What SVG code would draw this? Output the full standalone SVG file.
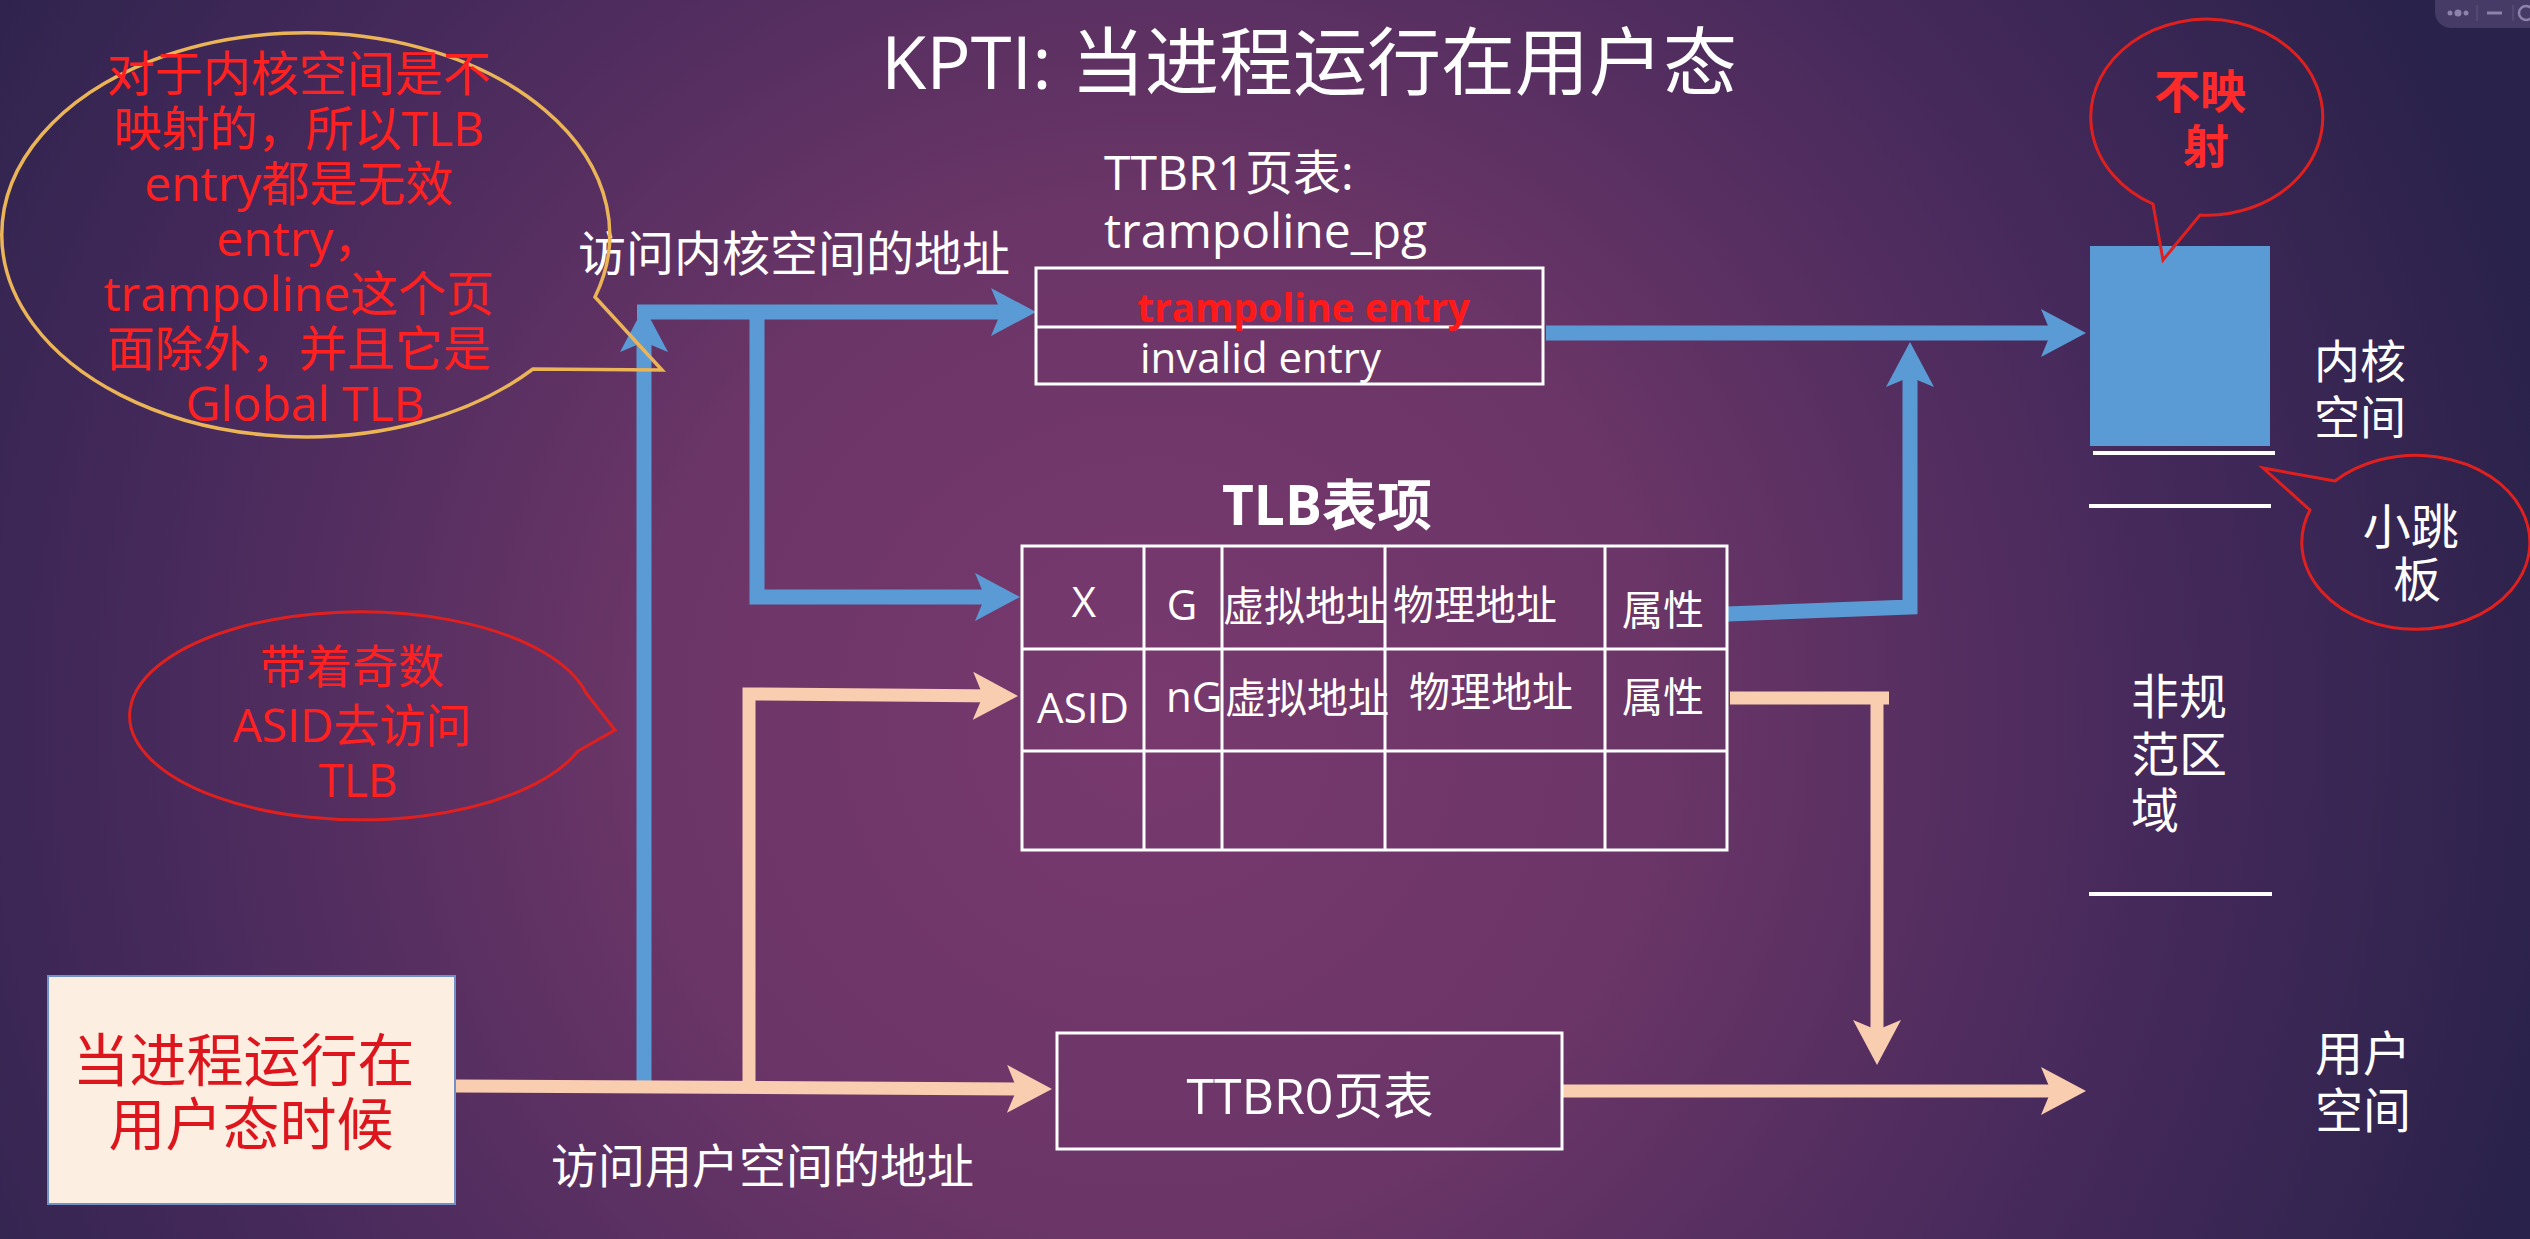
<svg xmlns="http://www.w3.org/2000/svg" width="2530" height="1239" viewBox="0 0 2530 1239">
  <defs>
    <radialGradient id="bg" cx="1150" cy="720" r="1450" gradientUnits="userSpaceOnUse">
      <stop offset="0" stop-color="#78396e"/>
      <stop offset="0.35" stop-color="#6b3567"/>
      <stop offset="0.7" stop-color="#45295b"/>
      <stop offset="1" stop-color="#29224a"/>
    </radialGradient>
    <marker id="ahBlue" markerUnits="userSpaceOnUse" markerWidth="50" markerHeight="50" refX="30" refY="24" orient="auto" viewBox="0 0 50 50">
      <path d="M0,0 L45,24 L0,48 L10,24 Z" fill="#5b9bd5"/>
    </marker>
    <marker id="ahPeach" markerUnits="userSpaceOnUse" markerWidth="50" markerHeight="50" refX="30" refY="24" orient="auto" viewBox="0 0 50 50">
      <path d="M0,0 L45,24 L0,48 L10,24 Z" fill="#f9cdb0"/>
    </marker>
    <style>
      text { font-family: "Open Sans", "Noto Sans CJK SC", sans-serif; }
      .w { fill: #ffffff; }
      .red { fill: #ff2020; }
      .box { fill: none; stroke: #ffffff; stroke-width: 3; }
      .grid { stroke: #ffffff; stroke-width: 3; }
      .blue { fill: none; stroke: #5b9bd5; stroke-width: 15; stroke-linejoin: miter; }
      .peach { fill: none; stroke: #f9cdb0; stroke-width: 13; stroke-linejoin: miter; }
      .bubbleRed { fill: none; stroke: #e0201e; stroke-width: 3; }
      .bubbleGold { fill: none; stroke: #eab457; stroke-width: 3.5; }
      .mid { text-anchor: middle; }
    </style>
  </defs>

  <rect x="0" y="0" width="2530" height="1239" fill="url(#bg)"/>

  <!-- window control overlay -->
  <g id="window-control">
    <rect x="2435" y="-14" width="130" height="42" rx="16" fill="#463b67"/>
    <circle cx="2450" cy="13" r="2.5" fill="#8c82aa"/>
    <circle cx="2458" cy="13" r="3.5" fill="#8c82aa"/>
    <circle cx="2466" cy="13" r="2.5" fill="#8c82aa"/>
    <line x1="2477" y1="5" x2="2477" y2="21" stroke="#5a4f7a" stroke-width="1.5"/>
    <line x1="2487" y1="13" x2="2502" y2="13" stroke="#8c82aa" stroke-width="3"/>
    <line x1="2513" y1="5" x2="2513" y2="21" stroke="#5a4f7a" stroke-width="1.5"/>
    <circle cx="2526" cy="13" r="7" fill="none" stroke="#8c82aa" stroke-width="2.5"/>
  </g>

  <g id="title">
    <text x="1309" y="89" class="w mid" font-size="74">KPTI: 当进程运行在用户态</text>
  </g>

  <g id="connectors">
    <!-- blue: kernel address path -->
    <path class="blue" d="M644 1081 L644 322" marker-end="url(#ahBlue)"/>
    <path class="blue" d="M637 312 L1021 312" marker-end="url(#ahBlue)"/>
    <path class="blue" d="M757 312 L757 597 L1005 597" marker-end="url(#ahBlue)"/>
    <path class="blue" d="M1546 333 L2071 333" marker-end="url(#ahBlue)"/>
    <path class="blue" d="M1727 614 L1910 607 L1910 357" marker-end="url(#ahBlue)"/>
    <!-- peach: user address path -->
    <path class="peach" d="M455 1086 L1037 1089" marker-end="url(#ahPeach)"/>
    <path class="peach" d="M749 1084 L749 694 L1003 696" marker-end="url(#ahPeach)"/>
    <path class="peach" d="M1730 698 L1889 698"/>
    <path class="peach" d="M1877 692 L1877 1050" marker-end="url(#ahPeach)"/>
    <path class="peach" d="M1562 1091 L2071 1091" marker-end="url(#ahPeach)"/>
  </g>

  <g id="label-kernel-access">
    <text x="578" y="271" class="w" font-size="48">访问内核空间的地址</text>
  </g>
  <g id="label-user-access">
    <text x="551" y="1183" class="w" font-size="47">访问用户空间的地址</text>
  </g>

  <g id="bubble-unmapped-note">
    <path class="bubbleGold" d="M595 297 L662 370 L533 369 A304 202 0 1 1 595 297 Z"/>
    <text class="red mid" font-size="48">
      <tspan x="305" y="91">对于内核空间是不</tspan>
      <tspan x="305" y="146">映射的，所以TLB</tspan>
      <tspan x="305" y="201">entry都是无效</tspan>
      <tspan x="305" y="256">entry，</tspan>
      <tspan x="305" y="311">trampoline这个页</tspan>
      <tspan x="305" y="366">面除外，并且它是</tspan>
      <tspan x="305" y="421">Global TLB</tspan>
    </text>
  </g>

  <g id="bubble-asid">
    <path class="bubbleRed" d="M578 751 L615 730 L586 693 A231 104 0 1 0 578 751 Z"/>
    <text class="red mid" font-size="46">
      <tspan x="358" y="683">带着奇数</tspan>
      <tspan x="358" y="742">ASID去访问</tspan>
      <tspan x="358" y="797">TLB</tspan>
    </text>
  </g>

  <g id="ttbr1-table">
    <text x="1104" y="190" class="w" font-size="48">TTBR1页表:</text>
    <text x="1104" y="248" class="w" font-size="48">trampoline_pg</text>
    <rect class="box" x="1036" y="268" width="507" height="116"/>
    <line class="grid" x1="1036" y1="327" x2="1543" y2="327"/>
    <text x="1137" y="322" fill="#ff1a1a" font-size="40" font-weight="bold" textLength="333" lengthAdjust="spacingAndGlyphs">trampoline entry</text>
    <text x="1140" y="373" class="w" font-size="42">invalid entry</text>
  </g>

  <g id="tlb-table">
    <text x="1222" y="525" class="w" font-size="55" font-weight="bold">TLB表项</text>
    <rect class="box" x="1022" y="546" width="705" height="304"/>
    <line class="grid" x1="1022" y1="649" x2="1727" y2="649"/>
    <line class="grid" x1="1022" y1="751" x2="1727" y2="751"/>
    <line class="grid" x1="1144" y1="546" x2="1144" y2="850"/>
    <line class="grid" x1="1222" y1="546" x2="1222" y2="850"/>
    <line class="grid" x1="1385" y1="546" x2="1385" y2="850"/>
    <line class="grid" x1="1605" y1="546" x2="1605" y2="850"/>
    <text x="1084" y="617" class="w mid" font-size="42">X</text>
    <text x="1182" y="620" class="w mid" font-size="42">G</text>
    <text x="1223" y="621" class="w" font-size="41">虚拟地址</text>
    <text x="1393" y="620" class="w" font-size="41">物理地址</text>
    <text x="1622" y="625" class="w" font-size="41">属性</text>
    <text x="1083" y="723" class="w mid" font-size="42">ASID</text>
    <text x="1166" y="712" class="w" font-size="42">nG</text>
    <text x="1225" y="713" class="w" font-size="41">虚拟地址</text>
    <text x="1409" y="707" class="w" font-size="41">物理地址</text>
    <text x="1622" y="712" class="w" font-size="41">属性</text>
  </g>

  <g id="ttbr0-table">
    <rect class="box" x="1057" y="1033" width="505" height="116"/>
    <text x="1310" y="1114" class="w mid" font-size="50">TTBR0页表</text>
  </g>

  <g id="user-mode-box">
    <rect x="48" y="976" width="407" height="228" fill="#fdeee2" stroke="#7090c8" stroke-width="2"/>
    <text class="mid" fill="#dc161c" font-size="57">
      <tspan x="251" y="1081">当进程运行在</tspan>
      <tspan x="251" y="1145">用户态时候</tspan>
    </text>
  </g>

  <g id="kernel-space">
    <rect x="2090" y="246" width="180" height="200" fill="#5b9bd5"/>
    <line x1="2093" y1="453" x2="2275" y2="453" stroke="#ffffff" stroke-width="4"/>
    <line x1="2089" y1="506" x2="2271" y2="506" stroke="#ffffff" stroke-width="4"/>
    <text class="w" font-size="46">
      <tspan x="2314" y="378">内核</tspan>
      <tspan x="2314" y="434">空间</tspan>
    </text>
  </g>

  <g id="bubble-not-mapped">
    <path class="bubbleRed" d="M2153 204 L2163 260 L2200 215 A116 98 0 1 0 2153 204 Z"/>
    <text class="mid" fill="#ff2a2a" font-size="46" font-weight="bold">
      <tspan x="2206" y="108">不映</tspan>
      <tspan x="2206" y="163">射</tspan>
    </text>
  </g>

  <g id="bubble-trampoline">
    <path class="bubbleRed" d="M2335 481 L2263 468 L2310 510 A114 87 0 1 0 2335 481 Z"/>
    <text class="w mid" font-size="48">
      <tspan x="2417" y="544">小跳</tspan>
      <tspan x="2417" y="597">板</tspan>
    </text>
  </g>

  <g id="non-canonical">
    <text class="w" font-size="48">
      <tspan x="2131" y="714">非规</tspan>
      <tspan x="2131" y="772">范区</tspan>
      <tspan x="2131" y="828">域</tspan>
    </text>
    <line x1="2089" y1="894" x2="2272" y2="894" stroke="#ffffff" stroke-width="4"/>
  </g>

  <g id="user-space">
    <text class="w" font-size="48">
      <tspan x="2315" y="1071">用户</tspan>
      <tspan x="2315" y="1128">空间</tspan>
    </text>
  </g>
</svg>
